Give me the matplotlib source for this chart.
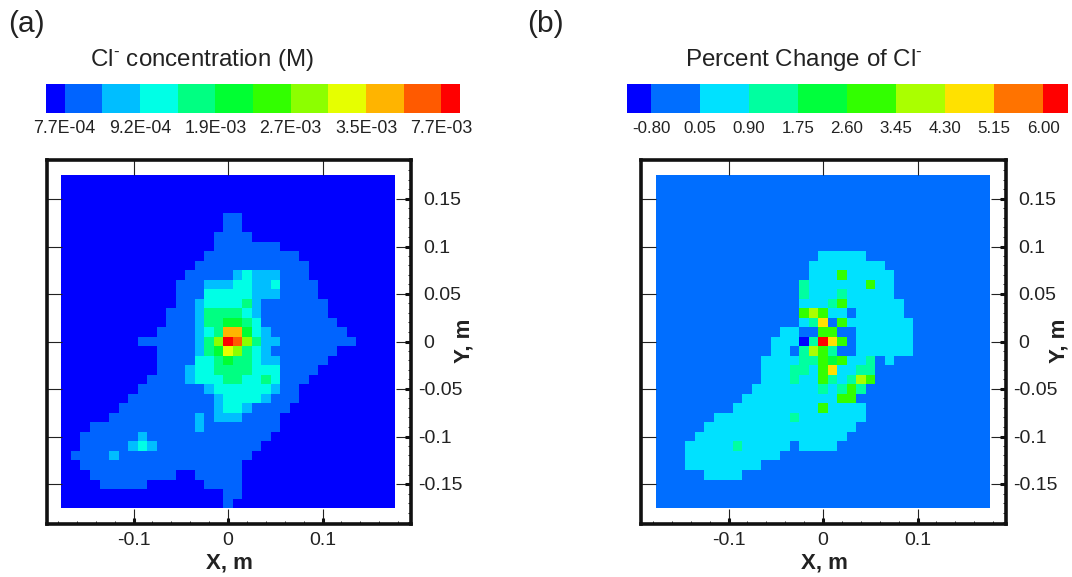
import numpy as np
import matplotlib
matplotlib.use("Agg")
import matplotlib.pyplot as plt
from matplotlib.colors import ListedColormap, BoundaryNorm
from matplotlib.transforms import blended_transform_factory

plt.rcParams['font.family'] = ['Liberation Sans', 'DejaVu Sans']
plt.rcParams['mathtext.default'] = 'regular'

# ---------- data ----------
grid_x_m = np.arange(-17, 18) * 0.01007
grid_y_m = np.arange(-17, 18) * 0.01002

conc_colors = ['#0000ff', '#0064ff', '#00beff', '#00ffe6', '#00ff82', '#00ff32',
               '#32ff00', '#8cff00', '#e6ff00', '#ffb400', '#ff5a00', '#ff0000']
conc_tick_labels = ['7.7E-04', '9.2E-04', '1.9E-03', '2.7E-03', '3.5E-03', '7.7E-03']

pct_colors = ['#0000ff', '#006eff', '#00e1ff', '#00ffa0', '#00ff3c',
              '#32ff00', '#aaff00', '#ffe100', '#ff7300', '#ff0000']
pct_tick_labels = ['-0.80', '0.05', '0.90', '1.75', '2.60', '3.45', '4.30', '5.15', '6.00']

x_major = [-0.1, 0, 0.1]
x_labels = ['-0.1', '0', '0.1']
y_major = [-0.15, -0.1, -0.05, 0, 0.05, 0.1, 0.15]
y_labels = ['-0.15', '-0.1', '-0.05', '0', '0.05', '0.1', '0.15']

# Colour-band index of each cell, top row first, as "count x band" runs.
conc_rows = [
    "35x0", "35x0", "35x0", "35x0",
    "17x0 2x1 16x0",
    "17x0 2x1 16x0",
    "16x0 4x1 15x0",
    "16x0 7x1 12x0",
    "15x0 10x1 10x0",
    "14x0 12x1 9x0",
    "13x0 5x1 1x2 1x3 3x2 3x1 9x0",
    "12x0 3x1 3x2 2x3 2x2 1x3 4x1 8x0",
    "12x0 3x1 5x3 3x2 4x1 8x0",
    "12x0 2x1 1x2 4x3 1x4 1x2 7x1 7x0",
    "11x0 3x1 1x2 4x4 1x3 1x2 7x1 7x0",
    "11x0 3x1 1x2 2x4 2x5 1x4 1x3 8x1 6x0",
    "10x0 4x1 1x2 1x3 1x4 2x9 1x5 1x3 1x2 8x1 5x0",
    "8x0 6x1 1x2 1x4 1x7 1x11 1x10 1x7 1x4 2x2 8x1 4x0",
    "10x0 4x1 1x2 1x4 1x5 1x8 1x7 1x4 1x3 1x2 7x1 6x0",
    "10x0 4x1 2x3 1x4 1x5 2x4 1x3 2x2 5x1 7x0",
    "10x0 3x1 1x2 2x3 4x4 3x3 4x1 8x0",
    "9x0 4x1 1x2 3x3 2x4 2x3 1x4 1x3 3x1 9x0",
    "8x0 7x1 1x2 6x3 1x2 2x1 10x0",
    "7x0 9x1 1x2 4x3 1x2 3x1 10x0",
    "6x0 10x1 1x2 2x3 1x2 4x1 11x0",
    "5x0 9x1 1x2 1x1 3x2 4x1 12x0",
    "3x0 11x1 1x2 8x1 12x0",
    "2x0 6x1 1x2 13x1 13x0",
    "2x0 5x1 1x2 1x3 1x2 11x1 14x0",
    "1x0 4x1 1x2 14x1 15x0",
    "2x0 17x1 16x0",
    "3x0 9x1 2x0 5x1 16x0",
    "4x0 5x1 6x0 4x1 16x0",
    "17x0 2x1 16x0",
    "17x0 1x1 17x0",
]

pct_rows = [
    "35x1", "35x1", "35x1", "35x1", "35x1", "35x1", "35x1", "35x1",
    "17x1 5x2 13x1",
    "16x1 8x2 11x1",
    "16x1 3x2 1x5 5x2 10x1",
    "15x1 1x3 6x2 1x5 2x2 10x1",
    "15x1 1x3 3x2 1x3 5x2 10x1",
    "15x1 3x2 1x3 1x5 6x2 9x1",
    "15x1 1x5 1x6 1x5 2x2 1x1 5x2 9x1",
    "15x1 1x2 1x3 1x7 1x1 1x5 7x2 8x1",
    "13x1 2x2 2x1 2x5 2x1 6x2 8x1",
    "12x1 3x2 1x0 1x3 1x9 1x7 1x5 1x1 6x2 8x1",
    "12x1 2x2 1x1 1x3 1x6 1x5 1x3 2x1 6x2 8x1",
    "11x1 4x2 2x3 1x5 1x4 1x5 2x2 1x3 1x1 1x2 10x1",
    "11x1 3x2 2x3 1x2 1x5 1x7 2x2 2x3 12x1",
    "11x1 3x2 1x3 2x2 1x5 1x3 1x2 1x3 1x6 1x5 12x1",
    "10x1 7x2 1x3 1x2 1x3 1x5 1x3 13x1",
    "9x1 10x2 2x5 14x1",
    "8x1 9x2 1x5 4x2 13x1",
    "6x1 8x2 1x3 7x2 13x1",
    "5x1 16x2 14x1",
    "4x1 16x2 15x1",
    "3x1 5x2 1x3 5x2 1x1 4x2 16x1",
    "3x1 10x2 22x1",
    "3x1 8x2 24x1",
    "5x1 4x2 26x1",
    "35x1", "35x1", "35x1",
]


def decode(rows):
    out = []
    for row in rows:
        cells = []
        for run in row.split():
            count, band = run.split('x')
            cells += [int(band)] * int(count)
        assert len(cells) == 35, row
        out.append(cells)
    return np.array(out)


# ---------- layout helpers ----------
W, H = 1072, 577
INK = '#222222'
fig = plt.figure(figsize=(W / 100, H / 100), dpi=100, facecolor='white')


def px_axes(l, t, r, b):
    return fig.add_axes([l / W, 1 - b / H, (r - l) / W, (b - t) / H])


def field(l, r, x0, colors, rows):
    top, bottom = 160, 524
    ax = px_axes(l, top, r, bottom)
    cmap = ListedColormap(colors)
    norm = BoundaryNorm(np.arange(len(colors) + 1) - 0.5, len(colors))
    ax.pcolormesh(grid_x_m, grid_y_m[::-1], decode(rows), cmap=cmap, norm=norm,
                  shading='nearest', linewidth=0, antialiased=False)
    ax.set_xlim((l - x0) / 945, (r - x0) / 945)
    ax.set_ylim((bottom - 341.5) / -950, (top - 341.5) / -950)

    ax.set_xticks(x_major)
    ax.set_xticklabels(x_labels)
    ax.set_yticks(y_major)
    ax.set_yticklabels([])
    ax.set_xticks(np.arange(-0.18, 0.181, 0.02), minor=True)
    ax.set_yticks(np.arange(-0.19, 0.191, 0.01), minor=True)
    ax.tick_params(which='major', direction='in', length=10.8, width=0.8,
                   color=INK, top=True, bottom=True, left=True, right=True,
                   labelsize=14, labelcolor=INK)
    ax.tick_params(axis='x', which='major', pad=5.5)
    ax.tick_params(which='minor', direction='in', length=2.5, width=0.7,
                   color=INK, top=False, left=False, bottom=True, right=True)

    # thicker stubs at the foot of the bottom and right major ticks
    tx = blended_transform_factory(ax.transData, ax.transAxes)
    ty = blended_transform_factory(ax.transAxes, ax.transData)
    for v in x_major:
        ax.plot([v, v], [0, 0.016], color='#111111', lw=2.2, transform=tx,
                solid_capstyle='butt', clip_on=False)
    for v, lab in zip(y_major, y_labels):
        ax.plot([1, 0.984], [v, v], color='#111111', lw=2.2, transform=ty,
                solid_capstyle='butt', clip_on=False)
        ax.annotate(lab, xy=(1, v), xycoords=ty,
                    xytext=(5 if lab.startswith('-') else 8.6, -1.2),
                    textcoords='offset points', ha='left', va='center',
                    fontsize=14, color=INK, annotation_clip=False)

    for s in ax.spines.values():
        s.set_linewidth(2.6)
        s.set_color('#111111')
    return ax


def colorbar(l, r, colors, labels, label_size, title, title_x):
    ax = px_axes(l, 83.5, r, 113)
    n = len(colors)
    edges = np.r_[0, np.arange(n - 1) + 0.5, n - 1]
    cmap = ListedColormap(colors)
    norm = BoundaryNorm(np.arange(n + 1) - 0.5, n)
    ax.pcolormesh(edges, [0, 1], [np.arange(n)], cmap=cmap, norm=norm,
                  antialiased=False, linewidth=0)
    ax.set_xlim(0, n - 1)
    ax.set_ylim(0, 1)
    ax.axis('off')
    step = (n - 2) / (len(labels) - 1)
    for k, lab in enumerate(labels):
        ax.text(0.5 + k * step, -0.53, lab, ha='center', va='center',
                fontsize=label_size, color=INK, clip_on=False)
    fig.text(title_x / W, 1 - 60 / H, title, ha='center', va='center', fontsize=17.4,
             color=INK)


# ---------- panels ----------
ax_a = field(47, 411, 228, conc_colors, conc_rows)
ax_b = field(641, 1006, 823, pct_colors, pct_rows)

colorbar(45.7, 460.3, conc_colors, conc_tick_labels, 12.8,
         'Cl$^{\u2010}$ concentration (M)', 202.5)
colorbar(626.6, 1067.5, pct_colors, pct_tick_labels, 12.2,
         'Percent Change of Cl$^{\u2010}$', 804)

fig.text(8 / W, 1 - 24 / H, '(a)', ha='left', va='center', fontsize=21.5, color=INK)
fig.text(527 / W, 1 - 24 / H, '(b)', ha='left', va='center', fontsize=21.5, color=INK)

for cx, ylab_x in [(229, 464), (824, 1059)]:
    fig.text(cx / W, 1 - 563 / H, 'X, m', ha='center', va='center', fontsize=16,
             fontweight='bold', color=INK)
    fig.text(ylab_x / W, 1 - 341 / H, 'Y, m', ha='center', va='center', fontsize=16,
             fontweight='bold', rotation=90, color=INK)

fig.savefig('out.png', dpi=100, facecolor='white')
